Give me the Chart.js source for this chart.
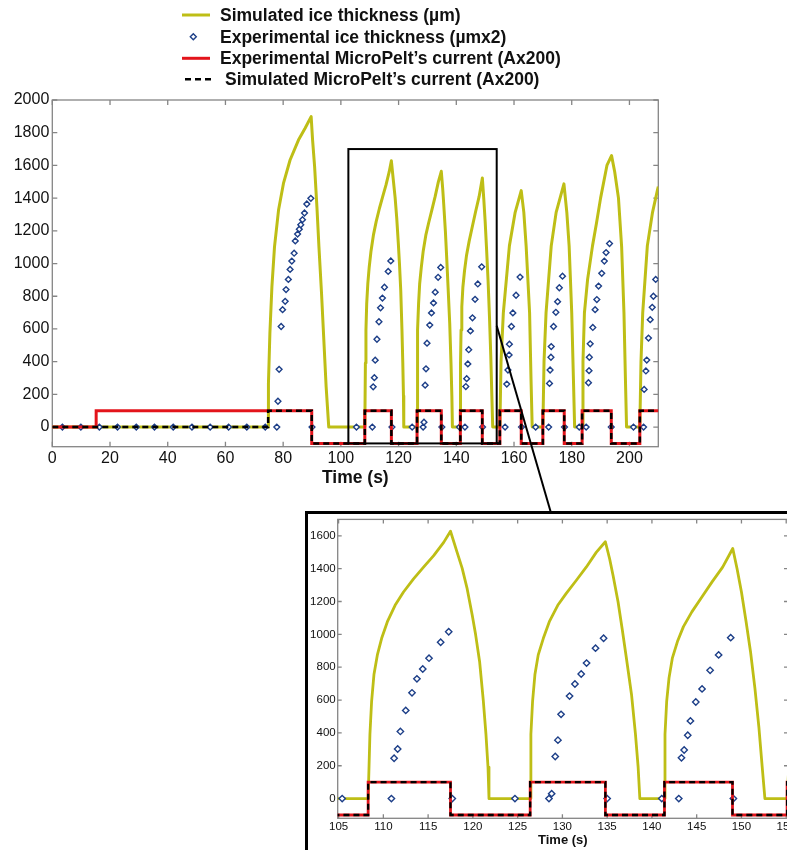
<!DOCTYPE html>
<html>
<head>
<meta charset="utf-8">
<title>Ice thickness and MicroPelt current</title>
<script src="https://cdn.jsdelivr.net/npm/chart.js@4.4.1/dist/chart.umd.min.js"></script>
<style>
  html, body { margin: 0; padding: 0; background: #fff; }
  body { position: relative; width: 787px; height: 850px; overflow: hidden; font-family: "Liberation Sans", Arial, sans-serif; }
  #grafico { position: absolute; left: 0; top: 0; }
  #leyenda { position: absolute; left: 0; top: 0; width: 787px; height: 95px; }
  #leyenda svg { position: absolute; left: 0; top: 0; }
  .fila { position: absolute; font-weight: bold; font-size: 17.5px; line-height: 20px; color: #111; white-space: nowrap; }
  #recuadro { position: absolute; left: 305px; top: 511px; width: 520px; height: 360px; border: 3px solid #000; box-sizing: border-box; background: #fff; }
  #detalle { position: absolute; left: 0; top: 0; }
</style>
</head>
<body>
<canvas id="grafico" width="787" height="850"></canvas>
<div id="leyenda"></div>
<div id="recuadro"><canvas id="detalle" width="514" height="354"></canvas></div>

<script>
// values
var simTime = [
  0, 74.8,
  74.9, 75.4, 76.1, 77.0, 78.4, 80.1, 82.4, 85.3, 87.6, 89.7, 90.2, 90.9, 91.7, 92.4, 93.3, 94.1, 94.9, 95.8,
  108.3, 108.5, 108.69, 108.95, 109.33, 109.81, 110.45, 111.31, 112.25, 113.37, 114.49, 115.62, 116.74, 117.5,
  118.24, 118.8, 119.36, 119.93, 120.3, 120.75, 121.16, 121.46, 121.69, 121.8,
  126.4, 126.48, 126.67, 126.93, 127.3, 127.87, 128.54, 129.48, 130.41, 131.54, 132.66, 133.78, 134.8,
  135.28, 135.66, 136.22, 136.67, 137.15, 137.72, 138.16, 138.46, 138.65,
  141.4, 141.46, 141.65, 141.91, 142.28, 142.85, 143.52, 144.46, 145.58, 146.7, 147.9, 149.03,
  149.51, 150.0, 150.52, 151.01, 151.5, 151.95, 152.32, 152.62,
  155.1, 155.5, 156.3, 158.4, 160.4, 162.5, 163.4, 164.2, 165.4, 165.9, 166.3,
  170.0, 170.4, 171.1, 172.9, 174.6, 177.3, 178.3, 179.1, 180.0, 180.6, 181.0,
  183.6, 183.9, 184.4, 185.5, 187.2, 188.6, 190.0, 192.2, 193.8, 194.9, 196.2, 197.3, 198.1, 198.6, 199.0,
  203.6, 204.0, 204.6, 206.2, 208.0, 209.8, 210
];
var simIce = [
  0, 0,
  265, 572, 857, 1102, 1327, 1490, 1633, 1755, 1827, 1898, 1755, 1592, 1347, 1102, 817, 531, 245, 0,
  0, 392, 594, 755, 875, 976, 1077, 1177, 1258, 1338, 1409, 1479, 1560, 1628,
  1499, 1403, 1278, 1117, 1000, 835, 600, 392, 191, 0,
  0, 392, 594, 755, 875, 976, 1077, 1177, 1248, 1328, 1409, 1499, 1564,
  1459, 1358, 1197, 1036, 855, 634, 392, 191, 0,
  0, 392, 594, 735, 855, 956, 1047, 1137, 1228, 1318, 1409, 1523,
  1399, 1258, 1077, 896, 674, 433, 191, 0,
  0, 400, 698, 1108, 1313, 1446, 1313, 1108, 698, 287, 0,
  0, 400, 698, 1108, 1313, 1487, 1313, 1108, 698, 287, 0,
  0, 400, 698, 903, 1108, 1250, 1400, 1600, 1660, 1560, 1400, 1100, 700, 300, 0,
  0, 400, 698, 1108, 1313, 1457, 1470
];

var expTime = [
  3.5, 9.9, 16.3, 22.6, 29.1, 35.4, 41.9, 48.4, 54.7, 61.1, 67.4, 73.8,
  77.8, 78.2, 78.6, 79.3, 79.8, 80.7, 81.0, 81.8, 82.4, 83.0, 83.8, 84.2, 85.0, 85.6, 86.1, 86.7, 87.4, 88.2, 89.6, 90.0,
  105.4, 110.9, 111.2, 111.6, 111.9, 112.5, 113.2, 113.75, 114.4, 115.1, 116.4, 117.3, 117.7,
  124.7, 128.5, 128.8, 129.2, 129.5, 129.85, 130.8, 131.4, 132.1, 132.7, 133.7, 134.6, 135.0,
  141.1, 143.0, 143.3, 143.6, 144.0, 144.3, 144.9, 145.6, 146.5, 147.45, 148.8, 149.1,
  156.9, 157.5, 157.9, 158.3, 158.4, 159.1, 159.6, 160.7, 162.1, 162.6, 167.5,
  172.0, 172.3, 172.5, 172.8, 172.9, 173.7, 174.5, 175.1, 175.7, 176.8, 177.5, 182.6,
  185.0, 185.8, 186.0, 186.1, 186.4, 187.3, 188.1, 188.7, 189.3, 190.4, 191.3, 191.9, 193.1, 193.7, 201.4,
  204.9, 205.1, 205.7, 206.0, 206.6, 207.2, 207.9, 208.3, 209.1
];
var expIce = [
  0, 0, 0, 0, 0, 0, 0, 0, 0, 0, 0, 0,
  0, 158, 353, 615, 718, 769, 841, 903, 964, 1015, 1063, 1138, 1180, 1210, 1237, 1268, 1309, 1364, 1399, 0,
  0, 0, 246, 302, 409, 537, 644, 729, 789, 855, 952, 1016, 0,
  0, 0, 30, 256, 356, 513, 624, 698, 759, 825, 916, 976, 0,
  0, 0, 248, 296, 386, 473, 588, 668, 781, 875, 980, 0,
  0, 263, 349, 441, 507, 615, 698, 806, 917, 0, 0,
  0, 267, 349, 427, 492, 615, 702, 767, 852, 923, 0, 0,
  0, 271, 345, 427, 509, 609, 718, 780, 862, 940, 1015, 1067, 1122, 0, 0,
  0, 230, 343, 410, 544, 657, 732, 800, 903
];

// current switching times (value holds until the next time)
var currTime = [0, 74.8, 89.9, 108.3, 117.5, 126.4, 134.8, 141.4, 149.0, 155.1, 162.5, 170.0, 177.4, 183.6, 193.7, 203.6, 210];
var simCurrent = [0, 100, -100, 100, -100, 100, -100, 100, -100, 100, -100, 100, -100, 100, -100, 100, 100];
var expCurrTime = [0, 15.2, 89.9, 108.3, 117.5, 126.4, 134.8, 141.4, 149.0, 155.1, 162.5, 170.0, 177.4, 183.6, 193.7, 203.6, 210];
var expCurrent = [0, 100, -100, 100, -100, 100, -100, 100, -100, 100, -100, 100, -100, 100, -100, 100, 100];

var seriesLabels = [
  'Simulated ice thickness (µm)',
  'Experimental ice thickness (µmx2)',
  'Experimental MicroPelt’s current (Ax200)',
  'Simulated MicroPelt’s current (Ax200)'
];

var mainXTicks = [0, 20, 40, 60, 80, 100, 120, 140, 160, 180, 200];
var mainYTicks = [0, 200, 400, 600, 800, 1000, 1200, 1400, 1600, 1800, 2000];
var insetXTicks = [105, 110, 115, 120, 125, 130, 135, 140, 145, 150, 155];
var insetYTicks = [0, 200, 400, 600, 800, 1000, 1200, 1400, 1600];

// zoomed window drawn on the main chart, and where its pointer line goes
var zoomBox = { x0: 102.6, x1: 154.0, y0: -100, y1: 1700 };
var pointerFrom = { x: 154.0, y: 620 };
var pointerTo = { px: 551, py: 513 };

var FAMILY = '"Liberation Sans", Arial, sans-serif';
var YELLOW = '#bebe16';
var RED = '#e3141b';
var NAVY = '#1d3f88';

function toPoints(xs, ys) {
  var out = [];
  for (var i = 0; i < xs.length; i++) out.push({ x: xs[i], y: ys[i] });
  return out;
}

function buildDatasets(lineW, markerR) {
  return [
    { label: seriesLabels[3], data: toPoints(currTime, simCurrent), showLine: true, stepped: true,
      borderColor: '#000', borderWidth: lineW - 0.5, borderDash: [6, 4], pointRadius: 0, order: 0 },
    { label: seriesLabels[2], data: toPoints(expCurrTime, expCurrent), showLine: true, stepped: true,
      borderColor: RED, borderWidth: lineW, pointRadius: 0, order: 1 },
    { label: seriesLabels[1], data: toPoints(expTime, expIce), showLine: false,
      pointStyle: 'rectRot', pointRadius: markerR, pointBorderColor: NAVY, pointBackgroundColor: '#fff',
      pointBorderWidth: 1.4, borderColor: NAVY, backgroundColor: '#fff', order: 2 },
    { label: seriesLabels[0], data: toPoints(simTime, simIce), showLine: true,
      borderColor: YELLOW, borderWidth: lineW, borderJoinStyle: 'round', pointRadius: 0, order: 3 }
  ];
}

function fixedTicks(list) {
  return function(scale) {
    scale.ticks = list.map(function(v) { return { value: v }; });
  };
}

// box around the plot with short inward tick marks, like the original
function framePlugin(tickLen) {
  return {
    id: 'marco',
    beforeDatasetsDraw: function(chart) {
      var ctx = chart.ctx, a = chart.chartArea, sx = chart.scales.x, sy = chart.scales.y;
      ctx.save();
      ctx.strokeStyle = '#858585';
      ctx.lineWidth = 1.3;
      ctx.strokeRect(a.left, a.top, a.right - a.left, a.bottom - a.top);
      ctx.beginPath();
      sx.ticks.forEach(function(t) {
        var p = sx.getPixelForValue(t.value);
        ctx.moveTo(p, a.bottom); ctx.lineTo(p, a.bottom - tickLen);
        ctx.moveTo(p, a.top); ctx.lineTo(p, a.top + tickLen);
      });
      sy.ticks.forEach(function(t) {
        var p = sy.getPixelForValue(t.value);
        ctx.moveTo(a.left, p); ctx.lineTo(a.left + tickLen, p);
        ctx.moveTo(a.right, p); ctx.lineTo(a.right - tickLen, p);
      });
      ctx.stroke();
      ctx.restore();
    }
  };
}

var zoomPlugin = {
  id: 'zoomBox',
  afterDatasetsDraw: function(chart) {
    var ctx = chart.ctx, sx = chart.scales.x, sy = chart.scales.y;
    var l = sx.getPixelForValue(zoomBox.x0), r = sx.getPixelForValue(zoomBox.x1);
    var t = sy.getPixelForValue(zoomBox.y1), b = sy.getPixelForValue(zoomBox.y0);
    ctx.save();
    ctx.strokeStyle = '#000';
    ctx.lineWidth = 2;
    ctx.strokeRect(l, t, r - l, b - t);
    ctx.beginPath();
    ctx.moveTo(sx.getPixelForValue(pointerFrom.x), sy.getPixelForValue(pointerFrom.y));
    ctx.lineTo(pointerTo.px, pointerTo.py);
    ctx.stroke();
    ctx.restore();
  }
};

function axisOptions(o) {
  return {
    x: {
      type: 'linear', min: o.xMin, max: o.xMax,
      grid: { display: false, drawTicks: false }, border: { display: false },
      afterBuildTicks: fixedTicks(o.xTicks),
      afterFit: function(s) { s.height = o.xHeight; s.paddingLeft = 0; s.paddingRight = 0; s.paddingTop = 0; s.paddingBottom = 0; },
      ticks: { padding: o.xPad, color: '#111', autoSkip: false, maxRotation: 0,
               font: { family: FAMILY, size: o.tickSize },
               callback: function(v) { return String(v); } },
      title: { display: true, text: 'Time (s)', color: '#111', padding: 0,
               font: { family: FAMILY, size: o.titleSize, weight: 'bold' } }
    },
    y: {
      type: 'linear', min: o.yMin, max: o.yMax,
      grid: { display: false, drawTicks: false }, border: { display: false },
      afterBuildTicks: fixedTicks(o.yTicks),
      afterFit: function(s) { s.width = o.yWidth; s.paddingLeft = 0; s.paddingRight = 0; s.paddingTop = 0; s.paddingBottom = 0; },
      ticks: { padding: o.yPad, color: '#111', autoSkip: false,
               font: { family: FAMILY, size: o.tickSize },
               callback: function(v) { return String(v); } }
    }
  };
}

var mainChart = new Chart(document.getElementById('grafico'), {
  type: 'scatter',
  data: { datasets: buildDatasets(3, 2.9) },
  options: {
    responsive: false, animation: false, events: [], devicePixelRatio: 1,
    layout: { padding: { top: 100, right: 128.7, bottom: 361.8, left: 0 } },
    plugins: { legend: { display: false }, tooltip: { enabled: false } },
    scales: axisOptions({ xMin: 0, xMax: 210, yMin: -120, yMax: 2000, xTicks: mainXTicks, yTicks: mainYTicks,
                          xHeight: 41.5, yWidth: 52.3, xPad: 2, yPad: 3, tickSize: 16, titleSize: 17.5 })
  },
  plugins: [framePlugin(5), zoomPlugin]
});

var insetChart = new Chart(document.getElementById('detalle'), {
  type: 'scatter',
  data: { datasets: buildDatasets(2.8, 3.2) },
  options: {
    responsive: false, animation: false, events: [], devicePixelRatio: 1,
    layout: { padding: { top: 2.8, right: 34, bottom: 20.2, left: 0 } },
    plugins: { legend: { display: false }, tooltip: { enabled: false } },
    scales: axisOptions({ xMin: 104.9, xMax: 155.2, yMin: -120, yMax: 1700, xTicks: insetXTicks, yTicks: insetYTicks,
                          xHeight: 29.5, yWidth: 29.7, xPad: 1.5, yPad: 2, tickSize: 11.5, titleSize: 13 })
  },
  plugins: [framePlugin(4)]
});

// legend above the plot, one row per series
function buildLegend() {
  var box = document.getElementById('leyenda');
  var rowsY = [15, 36.7, 58.3, 79.3];
  var textX = [220, 220, 220, 225];
  var ns = 'http://www.w3.org/2000/svg';
  var svg = document.createElementNS(ns, 'svg');
  svg.setAttribute('width', 787);
  svg.setAttribute('height', 95);

  function line(x1, x2, y, color, w, dash) {
    var el = document.createElementNS(ns, 'line');
    el.setAttribute('x1', x1); el.setAttribute('x2', x2);
    el.setAttribute('y1', y); el.setAttribute('y2', y);
    el.setAttribute('stroke', color); el.setAttribute('stroke-width', w);
    if (dash) el.setAttribute('stroke-dasharray', dash);
    svg.appendChild(el);
  }

  line(182, 210, rowsY[0], YELLOW, 3);
  var d = document.createElementNS(ns, 'polygon');
  var cx = 193.3, cy = rowsY[1], r = 3;
  d.setAttribute('points', cx + ',' + (cy - r) + ' ' + (cx + r) + ',' + cy + ' ' + cx + ',' + (cy + r) + ' ' + (cx - r) + ',' + cy);
  d.setAttribute('fill', '#fff'); d.setAttribute('stroke', NAVY); d.setAttribute('stroke-width', 1.4);
  svg.appendChild(d);
  line(182, 210, rowsY[2], RED, 3);
  line(185, 213, rowsY[3], '#000', 2.5, '6,4');
  box.appendChild(svg);

  for (var i = 0; i < seriesLabels.length; i++) {
    var row = document.createElement('div');
    row.className = 'fila';
    row.style.left = textX[i] + 'px';
    row.style.top = (rowsY[i] - 10) + 'px';
    row.textContent = seriesLabels[i];
    box.appendChild(row);
  }
}
buildLegend();
</script>
</body>
</html>
